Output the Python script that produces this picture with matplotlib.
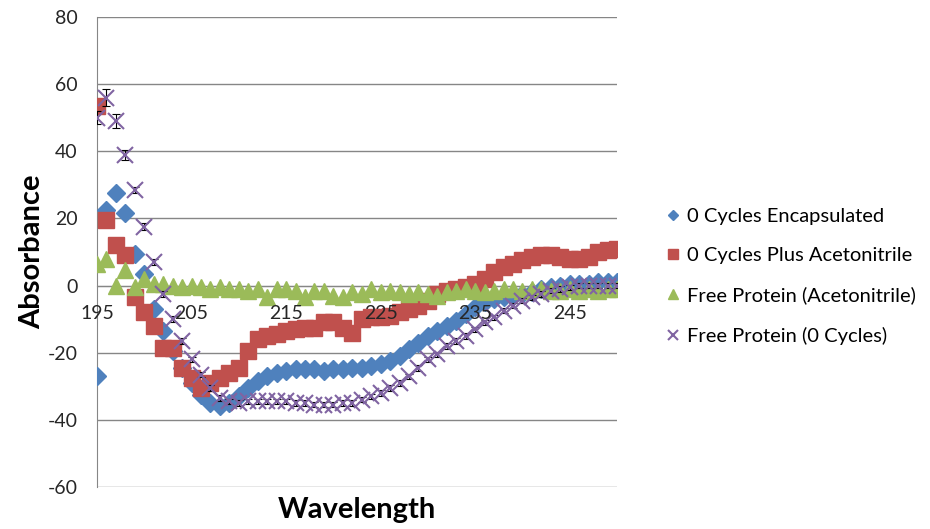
import numpy as np
import matplotlib.pyplot as plt

# CD spectra data (wavelength in nm)
wavelength = [195, 196, 197, 198, 199, 200, 201, 202, 203, 204,
              205, 206, 207, 208, 209, 210, 211, 212, 213, 214,
              215, 216, 217, 218, 219, 220, 221, 222, 223, 224,
              225, 226, 227, 228, 229, 230, 231, 232, 233, 234,
              235, 236, 237, 238, 239, 240, 241, 242, 243, 244,
              245, 246, 247, 248, 249, 250]

encapsulated = [-27, 22.5, 27.5, 21.5, 9.5, 3.5, -7, -13.5, -19.5, -24.5,
                -29, -32.5, -35, -36, -35, -33, -30.5, -28.5, -27, -26,
                -25.5, -25, -25, -25, -25.5, -25, -25, -24.5, -24.5, -24,
                -23.5, -22.5, -21, -19, -17, -15, -13.5, -12, -10.5, -8.5,
                -6.5, -5, -4, -3.5, -3, -2.5, -2, -1, -0.5, 0,
                0.5, 0.5, 0.5, 1, 1, 1]

plus_acn = [53.5, 19.5, 12, 9, -3.5, -8, -12, -18.5, -18.5, -24.5,
            -27.5, -30.5, -29, -27.5, -26, -24.5, -19.5, -16, -15, -14.5,
            -13.5, -13, -12.5, -12.5, -11, -11, -12.5, -14, -10, -9.5,
            -9.5, -9, -8, -7, -6, -4.5, -2.5, -1.5, -1, -0.5,
            0.5, 2, 4, 5.5, 6.5, 7.5, 8.5, 9, 9, 8.5,
            8, 8, 8.5, 10, 10.5, 11]

free_acn = [6.5, 8, 0, 4.5, -0.5, 2, 0.5, 0.5, 0, -0.5,
            0, -0.5, -1, -0.5, -1, -1, -1.5, -1, -3.5, -1,
            -1, -1.5, -3.5, -1.5, -1.5, -3, -3.5, -2, -2.5, -1,
            -2, -1.5, -2, -2.5, -2, -2.5, -3, -2, -1.5, -1,
            -1.5, -2, -1.5, -1, -1, -1.5, -1, -1, -1.5, -1.5,
            -1, -1.5, -1, -1.5, -1, -1]

free_0 = [50, 56, 49, 39, 28.5, 17.5, 7, -2.5, -10, -16.5,
          -22, -26.5, -30.5, -33.5, -34.5, -35, -34.5, -34.5, -34.5, -34.5,
          -34.5, -35, -35, -35.5, -35.5, -35.5, -35, -35, -34, -33,
          -32, -30.5, -29, -27, -24.5, -22, -20.5, -18, -16.5, -15,
          -13, -11, -9.5, -7.5, -6, -4.5, -3.5, -2.5, -1.5, -1,
          -0.5, 0, 0, 0, 0, 0]

free_0_err = [2, 2.5, 2, 1.5, 1, 1, 0.8, 0.8, 0.8, 0.8,
              0.8, 0.8, 0.8, 0.8, 0.8, 0.8, 0.8, 0.8, 0.8, 0.8,
              0.8, 0.8, 0.8, 0.8, 0.8, 0.8, 0.8, 0.8, 0.8, 0.8,
              0.8, 0.8, 0.8, 0.8, 0.8, 0.8, 0.8, 0.8, 0.8, 0.8,
              0.8, 0.8, 0.8, 0.8, 0.8, 0.8, 0.8, 0.8, 0.8, 0.8,
              0.8, 0.8, 0.8, 0.8, 0.8, 0.8]

xticks = [195, 205, 215, 225, 235, 245]
yticks = [-60, -40, -20, 0, 20, 40, 60, 80]

plt.rcParams['font.family'] = ['Lato', 'DejaVu Sans']
plt.rcParams['axes.unicode_minus'] = False

fig = plt.figure(figsize=(9.3, 5.29), dpi=100)
ax = fig.add_axes([0.1043, 0.0794, 0.5591, 0.8885])

ax.plot(wavelength, encapsulated, 'D', color='#4F81BD', ms=9, mec='#4F81BD',
        label='0 Cycles Encapsulated', zorder=3)
ax.plot(wavelength, plus_acn, 's', color='#C0504D', ms=12, mec='#C0504D',
        label='0 Cycles Plus Acetonitrile', zorder=4)
ax.plot(wavelength, free_acn, '^', color='#9BBB59', ms=12, mec='#9BBB59',
        label='Free Protein (Acetonitrile)', zorder=5)
ax.errorbar(wavelength, free_0, yerr=free_0_err, fmt='none', ecolor='black',
            elinewidth=0.8, capsize=3, capthick=0.8, zorder=6)
ax.plot(wavelength, free_0, 'x', color='#8064A2', ms=11, mew=1.5,
        label='Free Protein (0 Cycles)', zorder=7)

ax.set_xlim(195, 250)
ax.set_ylim(-60, 80)
ax.set_yticks(yticks)
ax.set_xticks(xticks)
ax.yaxis.grid(True, color='#868686', lw=1)
ax.set_axisbelow(True)
ax.xaxis.set_zorder(10)  # x labels sit on top of the markers like in Excel

for s in ['top', 'right']:
    ax.spines[s].set_visible(False)
ax.spines['left'].set_color('#868686')
ax.spines['bottom'].set_color('#868686')
ax.spines['bottom'].set_position(('data', 0))
ax.spines['bottom'].set_zorder(1)

ax.tick_params(axis='y', length=0, pad=14, labelsize=14, colors='#262626')
ax.tick_params(axis='x', length=0, pad=14, labelsize=14, colors='#262626')

ax.set_ylabel('Absorbance', fontsize=21, fontweight='bold', labelpad=2)
fig.text(0.384, 0.035, 'Wavelength', fontsize=21, fontweight='bold',
         ha='center', va='center')

leg = ax.legend(loc='center left', bbox_to_anchor=(1.05, 0.448), frameon=False,
                fontsize=14.5, handletextpad=0.1, handlelength=1.2,
                labelspacing=1.1, markerscale=0.6)

plt.savefig('out.png', dpi=100)
